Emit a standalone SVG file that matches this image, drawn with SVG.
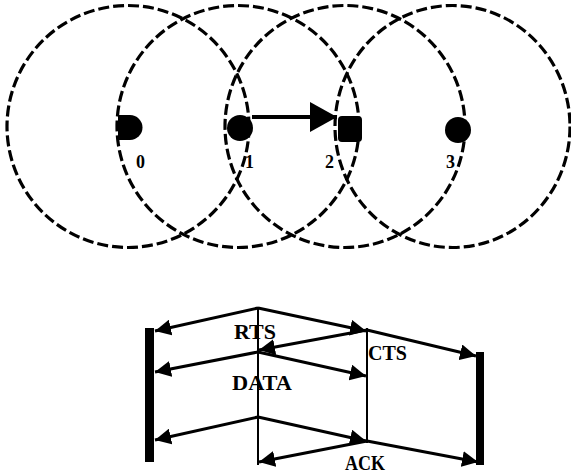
<svg xmlns="http://www.w3.org/2000/svg" width="571" height="474" viewBox="0 0 571 474">
  <style>
    .range { fill: none; stroke: #000; stroke-width: 3.2; stroke-dasharray: 11 4; }
    .dot { fill: #000; }
    .nlabel { font-family: "Liberation Serif", "DejaVu Serif", serif; font-weight: bold; font-size: 18px; fill: #000; }
    .msg { fill: none; stroke: #000; stroke-width: 3; marker-end: url(#head); }
    .tline { stroke: #000; stroke-width: 2; }
    .bar { fill: #000; }
    .mlabel { font-family: "Liberation Serif", "DejaVu Serif", serif; font-weight: bold; font-size: 20px; fill: #000; }
  </style>
  <defs>
    <marker id="head" markerUnits="userSpaceOnUse" markerWidth="17" markerHeight="16" refX="16" refY="8" orient="auto">
      <path d="M0,0 L16,8 L0,16 Z" fill="#000"/>
    </marker>
    <marker id="bighead" markerUnits="userSpaceOnUse" markerWidth="28" markerHeight="31" refX="27" refY="15" orient="auto">
      <path d="M0,0 L27,15 L0,30 Z" fill="#000"/>
    </marker>
  </defs>
  <rect width="571" height="474" fill="#fff"/>

  <!-- radio ranges and stations -->
  <g id="node0">
    <ellipse class="range" cx="128" cy="126.5" rx="121" ry="121"/>
    <path class="dot" d="M118,115 H130 A12.5,12.5 0 0 1 130,140 H118 Z"/>
    <text class="nlabel" x="136" y="168">0</text>
  </g>
  <g id="node1">
    <ellipse class="range" cx="238" cy="126.5" rx="121" ry="121"/>
    <circle class="dot" cx="240" cy="128" r="13"/>
    <text class="nlabel" x="245" y="168">1</text>
  </g>
  <g id="node2">
    <ellipse class="range" cx="345" cy="126.5" rx="120" ry="121"/>
    <rect class="dot" x="338" y="116" width="24" height="26" rx="4"/>
    <text class="nlabel" x="325" y="168">2</text>
  </g>
  <g id="node3">
    <ellipse class="range" cx="452.5" cy="126.5" rx="117.5" ry="121"/>
    <circle class="dot" cx="458" cy="130" r="13"/>
    <text class="nlabel" x="446" y="168">3</text>
  </g>

  <!-- time lines of stations 0..3 -->
  <g id="timeline0">
    <rect class="bar" x="145" y="328" width="9" height="134"/>
  </g>
  <g id="timeline1">
    <line class="tline" x1="258" y1="307" x2="258" y2="465"/>
  </g>
  <g id="timeline2">
    <line class="tline" x1="367" y1="328" x2="367" y2="443"/>
  </g>
  <g id="timeline3">
    <rect class="bar" x="476" y="352" width="8" height="113"/>
  </g>

  <g id="connectors">
    <!-- transmission 1 -> 2 -->
    <line x1="252" y1="117" x2="337" y2="117" stroke="#000" stroke-width="4" marker-end="url(#bighead)"/>
    <!-- RTS -->
    <line class="msg" x1="258" y1="308" x2="155" y2="331"/>
    <line class="msg" x1="258" y1="308" x2="366" y2="331"/>
    <!-- CTS -->
    <line class="msg" x1="367" y1="330" x2="259" y2="350"/>
    <line class="msg" x1="367" y1="330" x2="476" y2="356"/>
    <!-- DATA -->
    <line class="msg" x1="258" y1="352" x2="155" y2="372"/>
    <line class="msg" x1="258" y1="352" x2="366" y2="376"/>
    <line class="msg" x1="258" y1="417" x2="155" y2="440"/>
    <line class="msg" x1="258" y1="417" x2="366" y2="441"/>
    <!-- ACK -->
    <line class="msg" x1="367" y1="441" x2="259" y2="462"/>
    <line class="msg" x1="367" y1="441" x2="478" y2="462"/>
  </g>

  <g id="labels">
    <text class="mlabel" x="234" y="339" textLength="42" lengthAdjust="spacingAndGlyphs">RTS</text>
    <text class="mlabel" x="368" y="360" textLength="39" lengthAdjust="spacingAndGlyphs">CTS</text>
    <text class="mlabel" x="232" y="390" textLength="60" lengthAdjust="spacingAndGlyphs">DATA</text>
    <text class="mlabel" x="345" y="470" textLength="40" lengthAdjust="spacingAndGlyphs">ACK</text>
  </g>
</svg>
